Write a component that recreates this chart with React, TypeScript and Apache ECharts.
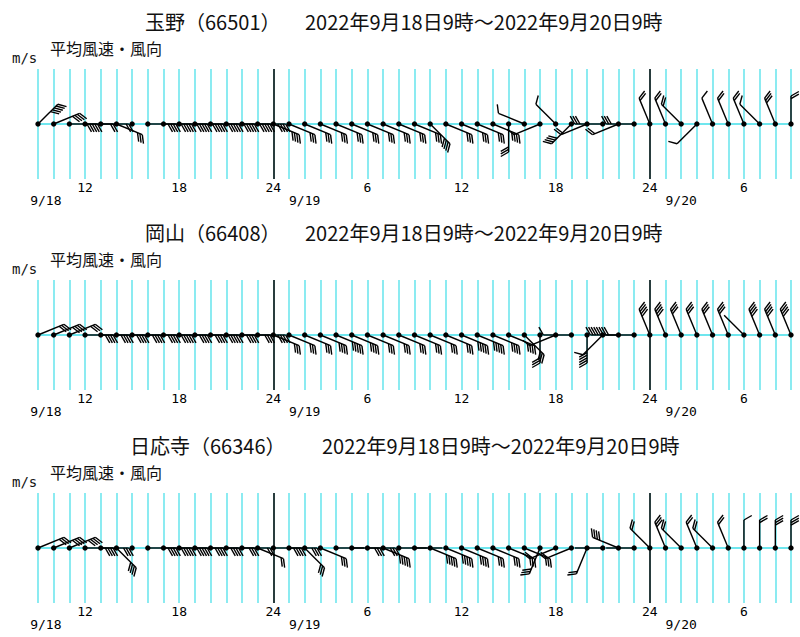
import React, { useEffect, useRef } from "react";
import * as echarts from "echarts";

// hour index 0 = 9/18 9時 ... 48 = 9/20 9時
const hours = Array.from({ length: 49 }, (_, i) => i);

const hourTicks = [3, 9, 15, 21, 27, 33, 39, 45];
const hourLabels = ["12", "18", "24", "6", "12", "18", "24", "6"];
const dateTicks = [0.5, 17, 41];
const dateLabels = ["9/18", "9/19", "9/20"];
const dayLines = [15, 39];

const stationNames = ["玉野（66501）", "岡山（66408）", "日応寺（66346）"];
const periodText = "2022年9月18日9時～2022年9月20日9時";
const subTitle = "平均風速・風向";
const unitText = "m/s";

// wind direction (degrees, from which the wind blows) and mean speed (m/s)
const tamanoDir = [
  45, 67.5, 90, 90, 90, 112.5, 0, 90, 90, 90, 90, 90, 90, 90, 90, 112.5,
  112.5, 112.5, 112.5, 112.5, 112.5, 112.5, 112.5, 112.5, 112.5, 135, 112.5, 112.5, 112.5, 112.5, 180, 292.5,
  247.5, 315, 225, 247.5, 270, 247.5, 270, 337.5, 337.5, 315, 225, 337.5, 337.5, 337.5, 315, 337.5, 0,
];
const tamanoSpd = [
  5, 4, 5, 2, 2, 3, 0, 4, 5, 5, 5, 5, 5, 5, 4, 4,
  3, 3, 3, 3, 3, 3, 3, 3, 3, 4, 3, 3, 3, 4, 3, 1,
  1, 1, 4, 2, 3, 2, 3, 2, 2, 2, 1, 1, 2, 2, 1, 3, 2,
];
const okayamaDir = [
  67.5, 67.5, 67.5, 90, 90, 90, 90, 90, 90, 90, 90, 90, 90, 90, 90, 112.5,
  112.5, 112.5, 112.5, 112.5, 112.5, 112.5, 112.5, 112.5, 112.5, 112.5, 112.5, 112.5, 112.5, 112.5, 112.5, 135,
  180, 247.5, 270, 180, 225, 270, 270, 337.5, 337.5, 337.5, 337.5, 337.5, 337.5, 315, 337.5, 337.5, 337.5,
];
const okayamaSpd = [
  3, 4, 3, 4, 4, 4, 4, 4, 5, 4, 4, 5, 4, 3, 4, 3,
  3, 3, 4, 5, 4, 3, 3, 3, 3, 3, 3, 5, 5, 4, 4, 3,
  3, 1, 1, 5, 1, 8, 0.3, 4, 4, 3, 3, 3, 3, 0.3, 4, 4, 4,
];
const nichiojiDir = [
  67.5, 67.5, 67.5, 90, 90, 135, 0, 90, 90, 90, 90, 90, 90, 90, 112.5, 90,
  90, 135, 112.5, 90, 90, 90, 112.5, 90, 90, 112.5, 112.5, 112.5, 112.5, 112.5, 112.5, 112.5,
  202.5, 247.5, 247.5, 202.5, 270, 292.5, 270, 315, 337.5, 315, 337.5, 315, 337.5, 0, 0, 0, 0,
];
const nichiojiSpd = [
  3, 4, 4, 4, 3, 4, 0, 4, 5, 5, 4, 4, 3, 2, 2, 4,
  3, 3, 3, 0.3, 3, 3, 5, 0.3, 0.3, 5, 5, 4, 3, 3, 3, 3,
  3, 2, 2, 2, 0.3, 4, 0.3, 2, 3, 2, 2, 2, 2, 1, 2, 3, 3,
];

const stationDirs = [tamanoDir, okayamaDir, nichiojiDir];
const stationSpds = [tamanoSpd, okayamaSpd, nichiojiSpd];

const CYAN = "#6fe6ee";
const SHAFT = 28;
const SPACING = 2.6;
const FEATHER = 9;

const gridTops = [69, 280, 493];
const nameX = [145, 145, 130];
const periodX = [305, 305, 322];

function renderBarb(params: any, api: any) {
  const h = api.value(0);
  const dir = api.value(1);
  const spd = api.value(2);
  const p = api.coord([h, 0]);
  const children: any[] = [];
  if (spd > 0) {
    const th = (dir * Math.PI) / 180;
    const ux = Math.sin(th);
    const uy = -Math.cos(th);
    const nx = Math.cos(th);
    const ny = Math.sin(th);
    const tx = p[0] + ux * SHAFT;
    const ty = p[1] + uy * SHAFT;
    const lineStyle = { stroke: "#000", lineWidth: 1.4 };
    children.push({ type: "line", shape: { x1: p[0], y1: p[1], x2: tx, y2: ty }, style: lineStyle });
    const fx = nx * 0.87 + ux * 0.5;
    const fy = ny * 0.87 + uy * 0.5;
    const full = Math.floor(spd);
    const half = spd - full >= 0.5;
    for (let k = 0; k < full; k++) {
      const d = SHAFT - k * SPACING;
      const sx = p[0] + ux * d;
      const sy = p[1] + uy * d;
      children.push({
        type: "line",
        shape: { x1: sx, y1: sy, x2: sx + fx * FEATHER, y2: sy + fy * FEATHER },
        style: lineStyle,
      });
    }
    if (half) {
      const d = SHAFT - full * SPACING;
      const sx = p[0] + ux * d;
      const sy = p[1] + uy * d;
      children.push({
        type: "line",
        shape: { x1: sx, y1: sy, x2: sx + (fx * FEATHER) / 2, y2: sy + (fy * FEATHER) / 2 },
        style: lineStyle,
      });
    }
  }
  children.push({ type: "circle", shape: { cx: p[0], cy: p[1], r: 2.7 }, style: { fill: "#000" } });
  return { type: "group", children };
}

export default function App() {
  const ref = useRef<HTMLDivElement>(null);
  useEffect(() => {
    if (!ref.current) return;
    const chart = echarts.init(ref.current, null, { renderer: "svg" });
    const grids: any[] = [];
    const xAxes: any[] = [];
    const dateAxes: any[] = [];
    const yAxes: any[] = [];
    const series: any[] = [];
    const graphics: any[] = [];
    for (let i = 0; i < 3; i++) {
      const top = gridTops[i];
      grids.push({ left: 38, right: 9, top, height: 110 });
      xAxes.push({
        type: "value",
        gridIndex: i,
        min: 0,
        max: 48,
        interval: 1,
        axisLine: { show: false },
        axisTick: { show: false },
        splitLine: { show: true, lineStyle: { color: CYAN, width: 1.6 } },
        axisLabel: {
          customValues: hourTicks,
          formatter: (v: number) => {
            const k = hourTicks.indexOf(v);
            return k >= 0 ? hourLabels[k] : "";
          },
          margin: 2,
          color: "#000",
          fontSize: 13,
          fontFamily: "DejaVu Sans Mono",
        },
      });
      dateAxes.push({
        type: "value",
        gridIndex: i,
        position: "bottom",
        offset: 0,
        min: 0,
        max: 48,
        axisLine: { show: false },
        axisTick: { show: false },
        splitLine: { show: false },
        axisLabel: {
          customValues: dateTicks,
          formatter: (v: number) => {
            const k = dateTicks.indexOf(v);
            return k >= 0 ? dateLabels[k] : "";
          },
          margin: 15,
          color: "#000",
          fontSize: 13,
          fontFamily: "DejaVu Sans Mono",
        },
      });
      yAxes.push({ type: "value", gridIndex: i, min: -1, max: 1, show: false });
      series.push({
        type: "line",
        xAxisIndex: i,
        yAxisIndex: i,
        data: [
          [0, 0],
          [48, 0],
        ],
        symbol: "none",
        silent: true,
        z: 2,
        lineStyle: { color: CYAN, width: 2 },
        markLine: {
          symbol: "none",
          silent: true,
          label: { show: false },
          lineStyle: { color: "#111", width: 1.6, type: "solid" },
          data: dayLines.map((d) => ({ xAxis: d })),
        },
      });
      series.push({
        type: "custom",
        xAxisIndex: i,
        yAxisIndex: i,
        z: 5,
        clip: false,
        renderItem: renderBarb,
        data: hours.map((h, k) => [h, stationDirs[i][k], stationSpds[i][k]]),
      });
      graphics.push(
        {
          type: "text",
          x: nameX[i],
          y: top - 48,
          style: { text: stationNames[i], fontSize: 20, fontFamily: "Noto Sans CJK JP", fill: "#111", verticalAlign: "middle" },
        },
        {
          type: "text",
          x: periodX[i],
          y: top - 48,
          style: { text: periodText, fontSize: 20, fontFamily: "Noto Sans CJK JP", fill: "#111", verticalAlign: "middle" },
        },
        {
          type: "text",
          x: 50,
          y: top - 21,
          style: { text: subTitle, fontSize: 16, fontFamily: "Noto Sans CJK JP", fill: "#111", verticalAlign: "middle" },
        },
        {
          type: "text",
          x: 12,
          y: top - 11,
          style: { text: unitText, fontSize: 14, fontFamily: "DejaVu Sans Mono", fill: "#111", verticalAlign: "middle" },
        }
      );
    }
    chart.setOption({
      animation: false,
      backgroundColor: "#fff",
      grid: grids,
      xAxis: [...xAxes, ...dateAxes],
      yAxis: yAxes,
      series,
      graphic: graphics,
    });
    return () => chart.dispose();
  }, []);
  return <div ref={ref} style={{ position: "fixed", left: 0, top: 0, width: 800, height: 637 }} />;
}
